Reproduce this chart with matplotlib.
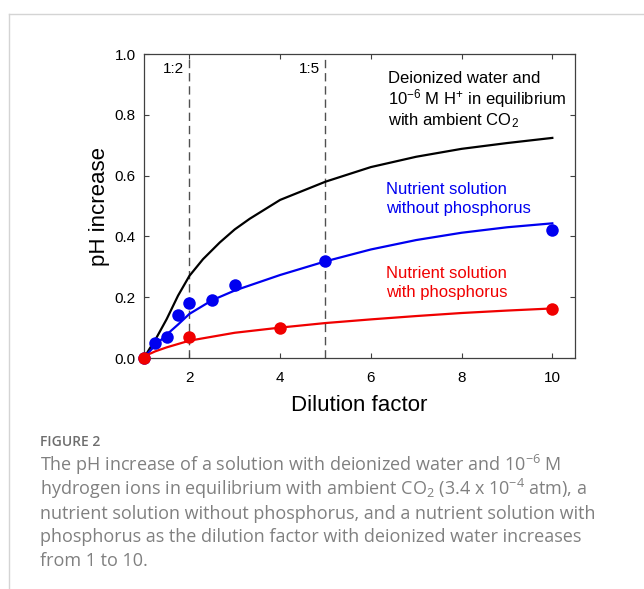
import matplotlib
matplotlib.use("Agg")
import matplotlib.pyplot as plt
from matplotlib.lines import Line2D

plt.rcParams['font.family'] = ['Liberation Sans', 'DejaVu Sans']
plt.rcParams['mathtext.default'] = 'regular'

# measured points
blue_pts_x = [1.0, 1.25, 1.5, 1.75, 2.0, 2.5, 3.0, 5.0, 10.0]
blue_pts_y = [0.0, 0.05, 0.07, 0.14, 0.18, 0.19, 0.24, 0.32, 0.42]
red_pts_x = [1.0, 2.0, 4.0, 10.0]
red_pts_y = [0.0, 0.07, 0.10, 0.16]

# fitted / modelled curves
black_x = [1.0, 1.1, 1.25, 1.5, 1.75, 2.0, 2.3, 2.67, 3.0, 3.33, 4.0, 5.0, 6.0, 7.0, 8.0, 9.0, 10.0]
black_y = [0.0, 0.025, 0.06, 0.128, 0.205, 0.27, 0.325, 0.38, 0.423, 0.458, 0.52, 0.58, 0.628, 0.662, 0.688, 0.707, 0.724]
blue_x = [1.0, 1.1, 1.25, 1.5, 1.75, 2.0, 2.5, 3.0, 4.0, 5.0, 6.0, 7.0, 8.0, 9.0, 10.0]
blue_y = [0.0, 0.018, 0.042, 0.077, 0.11, 0.145, 0.19, 0.222, 0.273, 0.318, 0.357, 0.388, 0.412, 0.43, 0.443]
red_x = [1.0, 1.1, 1.25, 1.5, 2.0, 3.0, 4.0, 5.0, 6.0, 7.0, 8.0, 9.0, 10.0]
red_y = [0.0, 0.012, 0.022, 0.035, 0.057, 0.083, 0.10, 0.115, 0.127, 0.138, 0.148, 0.156, 0.163]

dilutions = [2, 5]
dilution_labels = ['1:2', '1:5']

x_ticks = [2, 4, 6, 8, 10]
y_ticks = [0.0, 0.2, 0.4, 0.6, 0.8, 1.0]

caption_lines = [
    'The pH increase of a solution with deionized water and 10$^{-6}$ M',
    'hydrogen ions in equilibrium with ambient CO$_2$ (3.4 x 10$^{-4}$ atm), a',
    'nutrient solution without phosphorus, and a nutrient solution with',
    'phosphorus as the dilution factor with deionized water increases',
    'from 1 to 10.',
]

BLUE = '#0000f0'
RED = '#f00000'
SPINE = '#404040'

W, H = 644, 589
fig = plt.figure(figsize=(W / 100, H / 100), dpi=100)
ax = fig.add_axes([144 / W, 1 - 358 / H, (575 - 144) / W, (358 - 54) / H])

for d, lab in zip(dilutions, dilution_labels):
    ax.axvline(d, color='#505050', lw=1.0, dashes=(6, 3.5), zorder=1)
    ax.text(d - 0.117, 0.937, lab, ha='right', va='baseline', fontsize=11)

ax.plot(black_x, black_y, color='black', lw=1.6, zorder=3)
ax.plot(blue_x, blue_y, color=BLUE, lw=1.6, zorder=3)
ax.plot(red_x, red_y, color=RED, lw=1.6, zorder=3)
ax.plot(blue_pts_x, blue_pts_y, 'o', color=BLUE, ms=9, mec='none', zorder=4, clip_on=False)
ax.plot(red_pts_x, red_pts_y, 'o', color=RED, ms=9, mec='none', zorder=5, clip_on=False)

ax.text(6.377, 0.904, 'Deionized water and', fontsize=12, va='baseline')
ax.text(6.377, 0.833, '10$^{-6}$ M H$^{+}$ in equilibrium', fontsize=12, va='baseline')
ax.text(6.377, 0.766, 'with ambient CO$_2$', fontsize=12, va='baseline')
ax.text(6.34, 0.539, 'Nutrient solution', fontsize=12, va='baseline', color=BLUE)
ax.text(6.34, 0.478, 'without phosphorus', fontsize=12, va='baseline', color=BLUE)
ax.text(6.34, 0.262, 'Nutrient solution', fontsize=12, va='baseline', color=RED)
ax.text(6.34, 0.202, 'with phosphorus', fontsize=12, va='baseline', color=RED)

ax.set_xlim(1, 10.5)
ax.set_ylim(0, 1.0)
ax.set_xticks(x_ticks)
ax.set_yticks(y_ticks)
ax.set_yticklabels([f'{v:.1f}' for v in y_ticks])
ax.tick_params(direction='in', top=True, right=True, length=3.4, width=0.8,
               color=SPINE, labelsize=11)
ax.tick_params(axis='x', pad=9)
ax.tick_params(axis='y', pad=6)
for s in ax.spines.values():
    s.set_color(SPINE)
    s.set_linewidth(0.9)

ax.set_xlabel('Dilution factor', fontsize=16)
ax.set_ylabel('pH increase', fontsize=16)
ax.xaxis.set_label_coords(0.5, -0.122)
ax.yaxis.set_label_coords(-0.08, 0.5)

# page frame
fig.add_artist(Line2D([9 / W, 1], [1 - 13.5 / H] * 2, color='#d4d4d4', lw=1.0))
fig.add_artist(Line2D([9 / W] * 2, [0, 1 - 13.5 / H], color='#d4d4d4', lw=1.0))

fig.text(40 / W, 1 - 446 / H, 'FIGURE 2', family=['Open Sans', 'DejaVu Sans'],
         fontsize=10, fontweight='semibold', color='#6e6e6e', va='baseline')
for i, line in enumerate(caption_lines):
    fig.text(40 / W, 1 - (471 + 23.8 * i) / H, line, family=['Open Sans', 'DejaVu Sans'],
             fontsize=13.0, color='#808080', va='baseline')

fig.savefig('out.png', dpi=100)
